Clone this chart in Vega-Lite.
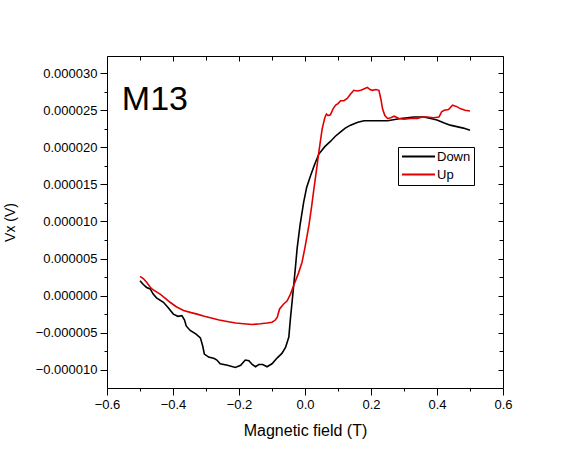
{
  "$schema": "https://vega.github.io/schema/vega-lite/v6.json",
  "width": 396,
  "height": 332,
  "autosize": "none",
  "padding": {"left": 107, "top": 56, "right": 85, "bottom": 82},
  "background": "white",
  "config": {
    "font": "Liberation Sans",
    "view": {"stroke": "#000000", "strokeWidth": 1},
    "axis": {
      "domain": false,
      "grid": false,
      "tickColor": "#000000",
      "tickWidth": 1,
      "labelColor": "#000000",
      "titleColor": "#000000",
      "labelFont": "Liberation Sans",
      "titleFont": "Liberation Sans",
      "labelFontSize": 13,
      "titleFontWeight": "normal",
      "labelFlush": false,
      "labelOverlap": false
    }
  },
  "datasets": {
    "curves": [
      {"B": -0.500, "V": 2.0e-6, "series": "Down"},
      {"B": -0.490, "V": 1.5e-6, "series": "Down"},
      {"B": -0.480, "V": 1.1e-6, "series": "Down"},
      {"B": -0.469, "V": 0.9e-6, "series": "Down"},
      {"B": -0.460, "V": 0.2e-6, "series": "Down"},
      {"B": -0.450, "V": -0.3e-6, "series": "Down"},
      {"B": -0.429, "V": -0.9e-6, "series": "Down"},
      {"B": -0.415, "V": -1.6e-6, "series": "Down"},
      {"B": -0.399, "V": -2.5e-6, "series": "Down"},
      {"B": -0.385, "V": -2.8e-6, "series": "Down"},
      {"B": -0.373, "V": -2.7e-6, "series": "Down"},
      {"B": -0.365, "V": -3.3e-6, "series": "Down"},
      {"B": -0.360, "V": -4.1e-6, "series": "Down"},
      {"B": -0.348, "V": -4.7e-6, "series": "Down"},
      {"B": -0.330, "V": -5.2e-6, "series": "Down"},
      {"B": -0.317, "V": -5.7e-6, "series": "Down"},
      {"B": -0.310, "V": -6.8e-6, "series": "Down"},
      {"B": -0.305, "V": -7.9e-6, "series": "Down"},
      {"B": -0.292, "V": -8.3e-6, "series": "Down"},
      {"B": -0.275, "V": -8.5e-6, "series": "Down"},
      {"B": -0.267, "V": -8.7e-6, "series": "Down"},
      {"B": -0.257, "V": -9.2e-6, "series": "Down"},
      {"B": -0.235, "V": -9.4e-6, "series": "Down"},
      {"B": -0.211, "V": -9.7e-6, "series": "Down"},
      {"B": -0.195, "V": -9.4e-6, "series": "Down"},
      {"B": -0.181, "V": -8.7e-6, "series": "Down"},
      {"B": -0.170, "V": -8.8e-6, "series": "Down"},
      {"B": -0.160, "V": -9.3e-6, "series": "Down"},
      {"B": -0.150, "V": -9.6e-6, "series": "Down"},
      {"B": -0.140, "V": -9.3e-6, "series": "Down"},
      {"B": -0.128, "V": -9.3e-6, "series": "Down"},
      {"B": -0.115, "V": -9.6e-6, "series": "Down"},
      {"B": -0.100, "V": -9.2e-6, "series": "Down"},
      {"B": -0.084, "V": -8.4e-6, "series": "Down"},
      {"B": -0.070, "V": -7.8e-6, "series": "Down"},
      {"B": -0.059, "V": -7.0e-6, "series": "Down"},
      {"B": -0.049, "V": -5.6e-6, "series": "Down"},
      {"B": -0.044, "V": -3.0e-6, "series": "Down"},
      {"B": -0.039, "V": -0.8e-6, "series": "Down"},
      {"B": -0.034, "V": 1.5e-6, "series": "Down"},
      {"B": -0.029, "V": 3.8e-6, "series": "Down"},
      {"B": -0.024, "V": 6.3e-6, "series": "Down"},
      {"B": -0.015, "V": 9.5e-6, "series": "Down"},
      {"B": -0.004, "V": 12.6e-6, "series": "Down"},
      {"B": 0.005, "V": 14.6e-6, "series": "Down"},
      {"B": 0.017, "V": 16.2e-6, "series": "Down"},
      {"B": 0.030, "V": 17.8e-6, "series": "Down"},
      {"B": 0.042, "V": 19.1e-6, "series": "Down"},
      {"B": 0.060, "V": 20.1e-6, "series": "Down"},
      {"B": 0.077, "V": 20.8e-6, "series": "Down"},
      {"B": 0.092, "V": 21.5e-6, "series": "Down"},
      {"B": 0.108, "V": 22.1e-6, "series": "Down"},
      {"B": 0.122, "V": 22.6e-6, "series": "Down"},
      {"B": 0.138, "V": 23.0e-6, "series": "Down"},
      {"B": 0.160, "V": 23.4e-6, "series": "Down"},
      {"B": 0.179, "V": 23.6e-6, "series": "Down"},
      {"B": 0.210, "V": 23.6e-6, "series": "Down"},
      {"B": 0.250, "V": 23.6e-6, "series": "Down"},
      {"B": 0.290, "V": 23.9e-6, "series": "Down"},
      {"B": 0.330, "V": 24.1e-6, "series": "Down"},
      {"B": 0.360, "V": 24.1e-6, "series": "Down"},
      {"B": 0.381, "V": 23.9e-6, "series": "Down"},
      {"B": 0.400, "V": 23.7e-6, "series": "Down"},
      {"B": 0.422, "V": 23.3e-6, "series": "Down"},
      {"B": 0.440, "V": 23.0e-6, "series": "Down"},
      {"B": 0.460, "V": 22.8e-6, "series": "Down"},
      {"B": 0.480, "V": 22.6e-6, "series": "Down"},
      {"B": 0.500, "V": 22.3e-6, "series": "Down"},
      {"B": -0.500, "V": 2.6e-6, "series": "Up"},
      {"B": -0.490, "V": 2.3e-6, "series": "Up"},
      {"B": -0.480, "V": 1.8e-6, "series": "Up"},
      {"B": -0.470, "V": 1.2e-6, "series": "Up"},
      {"B": -0.464, "V": 0.9e-6, "series": "Up"},
      {"B": -0.450, "V": 0.5e-6, "series": "Up"},
      {"B": -0.439, "V": 0.2e-6, "series": "Up"},
      {"B": -0.425, "V": -0.3e-6, "series": "Up"},
      {"B": -0.409, "V": -0.9e-6, "series": "Up"},
      {"B": -0.390, "V": -1.5e-6, "series": "Up"},
      {"B": -0.368, "V": -2.0e-6, "series": "Up"},
      {"B": -0.345, "V": -2.3e-6, "series": "Up"},
      {"B": -0.327, "V": -2.5e-6, "series": "Up"},
      {"B": -0.305, "V": -2.8e-6, "series": "Up"},
      {"B": -0.287, "V": -3.0e-6, "series": "Up"},
      {"B": -0.260, "V": -3.3e-6, "series": "Up"},
      {"B": -0.236, "V": -3.5e-6, "series": "Up"},
      {"B": -0.210, "V": -3.7e-6, "series": "Up"},
      {"B": -0.186, "V": -3.8e-6, "series": "Up"},
      {"B": -0.160, "V": -3.9e-6, "series": "Up"},
      {"B": -0.135, "V": -3.8e-6, "series": "Up"},
      {"B": -0.115, "V": -3.7e-6, "series": "Up"},
      {"B": -0.100, "V": -3.6e-6, "series": "Up"},
      {"B": -0.090, "V": -3.3e-6, "series": "Up"},
      {"B": -0.084, "V": -2.9e-6, "series": "Up"},
      {"B": -0.077, "V": -1.8e-6, "series": "Up"},
      {"B": -0.066, "V": -1.2e-6, "series": "Up"},
      {"B": -0.054, "V": -0.7e-6, "series": "Up"},
      {"B": -0.044, "V": 0.2e-6, "series": "Up"},
      {"B": -0.034, "V": 1.4e-6, "series": "Up"},
      {"B": -0.020, "V": 3.0e-6, "series": "Up"},
      {"B": -0.009, "V": 4.5e-6, "series": "Up"},
      {"B": 0.000, "V": 6.5e-6, "series": "Up"},
      {"B": 0.012, "V": 9.5e-6, "series": "Up"},
      {"B": 0.020, "V": 12.0e-6, "series": "Up"},
      {"B": 0.027, "V": 14.4e-6, "series": "Up"},
      {"B": 0.035, "V": 17.0e-6, "series": "Up"},
      {"B": 0.042, "V": 19.4e-6, "series": "Up"},
      {"B": 0.052, "V": 22.5e-6, "series": "Up"},
      {"B": 0.060, "V": 24.0e-6, "series": "Up"},
      {"B": 0.065, "V": 24.5e-6, "series": "Up"},
      {"B": 0.070, "V": 24.3e-6, "series": "Up"},
      {"B": 0.077, "V": 24.4e-6, "series": "Up"},
      {"B": 0.085, "V": 25.2e-6, "series": "Up"},
      {"B": 0.093, "V": 25.7e-6, "series": "Up"},
      {"B": 0.100, "V": 25.9e-6, "series": "Up"},
      {"B": 0.108, "V": 26.3e-6, "series": "Up"},
      {"B": 0.118, "V": 26.3e-6, "series": "Up"},
      {"B": 0.128, "V": 26.6e-6, "series": "Up"},
      {"B": 0.138, "V": 27.2e-6, "series": "Up"},
      {"B": 0.148, "V": 27.7e-6, "series": "Up"},
      {"B": 0.158, "V": 27.6e-6, "series": "Up"},
      {"B": 0.169, "V": 27.7e-6, "series": "Up"},
      {"B": 0.180, "V": 27.9e-6, "series": "Up"},
      {"B": 0.189, "V": 28.1e-6, "series": "Up"},
      {"B": 0.197, "V": 27.8e-6, "series": "Up"},
      {"B": 0.204, "V": 27.7e-6, "series": "Up"},
      {"B": 0.215, "V": 27.8e-6, "series": "Up"},
      {"B": 0.224, "V": 27.7e-6, "series": "Up"},
      {"B": 0.230, "V": 26.5e-6, "series": "Up"},
      {"B": 0.235, "V": 25.2e-6, "series": "Up"},
      {"B": 0.242, "V": 24.3e-6, "series": "Up"},
      {"B": 0.250, "V": 23.9e-6, "series": "Up"},
      {"B": 0.260, "V": 24.0e-6, "series": "Up"},
      {"B": 0.270, "V": 24.2e-6, "series": "Up"},
      {"B": 0.285, "V": 23.9e-6, "series": "Up"},
      {"B": 0.300, "V": 23.8e-6, "series": "Up"},
      {"B": 0.320, "V": 23.9e-6, "series": "Up"},
      {"B": 0.341, "V": 23.9e-6, "series": "Up"},
      {"B": 0.355, "V": 24.1e-6, "series": "Up"},
      {"B": 0.371, "V": 24.1e-6, "series": "Up"},
      {"B": 0.390, "V": 24.0e-6, "series": "Up"},
      {"B": 0.406, "V": 24.1e-6, "series": "Up"},
      {"B": 0.414, "V": 24.8e-6, "series": "Up"},
      {"B": 0.422, "V": 25.0e-6, "series": "Up"},
      {"B": 0.435, "V": 25.1e-6, "series": "Up"},
      {"B": 0.447, "V": 25.7e-6, "series": "Up"},
      {"B": 0.460, "V": 25.5e-6, "series": "Up"},
      {"B": 0.472, "V": 25.2e-6, "series": "Up"},
      {"B": 0.485, "V": 25.0e-6, "series": "Up"},
      {"B": 0.500, "V": 24.9e-6, "series": "Up"}
    ],
    "label": [
      {"B": -0.555, "V": 25.0e-6, "text": "M13"}
    ]
  },
  "layer": [
    {
      "data": {"name": "curves"},
      "mark": {"type": "line", "strokeWidth": 1.6},
      "encoding": {
        "x": {
          "field": "B", "type": "quantitative",
          "scale": {"domain": [-0.6, 0.6], "nice": false, "zero": false},
          "axis": {
            "orient": "bottom",
            "values": [-0.6, -0.4, -0.2, 0, 0.2, 0.4, 0.6],
            "format": ".1f",
            "tickSize": 7,
            "labelPadding": 3,
            "title": "Magnetic field (T)",
            "titleFontSize": 16,
            "titlePadding": 11
          }
        },
        "y": {
          "field": "V", "type": "quantitative",
          "scale": {"domain": [-1.247e-5, 3.233e-5], "nice": false, "zero": false},
          "axis": {
            "orient": "left",
            "values": [-1.0e-5, -5.0e-6, 0, 5.0e-6, 1.0e-5, 1.5e-5, 2.0e-5, 2.5e-5, 3.0e-5],
            "format": ".6f",
            "tickSize": 7,
            "labelPadding": 3,
            "title": "Vx (V)",
            "titleFontSize": 14,
            "titlePadding": 18
          }
        },
        "color": {
          "field": "series", "type": "nominal",
          "scale": {"domain": ["Down", "Up"], "range": ["#000000", "#e00000"]},
          "legend": {
            "orient": "none",
            "legendX": 291,
            "legendY": 91,
            "title": null,
            "symbolType": "M-3,0H3",
            "symbolSize": 121,
            "symbolOffset": 11,
            "symbolStrokeWidth": 2,
            "labelFontSize": 13,
            "labelColor": "#000000",
            "labelOffset": 12,
            "rowPadding": 4,
            "padding": 3,
            "strokeColor": "#000000",
            "fillColor": "#ffffff"
          }
        }
      }
    },
    {
      "data": {"name": "label"},
      "mark": {"type": "text", "align": "left", "baseline": "alphabetic", "fontSize": 34, "font": "Liberation Sans", "color": "#000000"},
      "encoding": {
        "x": {
          "field": "B", "type": "quantitative",
          "scale": {"domain": [-0.6, 0.6], "nice": false, "zero": false},
          "axis": {"orient": "bottom", "values": [-0.5, -0.3, -0.1, 0.1, 0.3, 0.5], "tickSize": 3, "labels": false, "title": null}
        },
        "y": {
          "field": "V", "type": "quantitative",
          "scale": {"domain": [-1.247e-5, 3.233e-5], "nice": false, "zero": false},
          "axis": {"orient": "left", "values": [-7.5e-6, -2.5e-6, 2.5e-6, 7.5e-6, 1.25e-5, 1.75e-5, 2.25e-5, 2.75e-5], "tickSize": 3, "labels": false, "title": null}
        },
        "text": {"field": "text"}
      }
    },
    {
      "data": {"name": "curves"},
      "mark": {"type": "point", "opacity": 0},
      "encoding": {
        "x": {
          "field": "B", "type": "quantitative",
          "scale": {"domain": [-0.6, 0.6], "nice": false, "zero": false},
          "axis": {"orient": "top", "values": [-0.6, -0.4, -0.2, 0, 0.2, 0.4, 0.6], "tickSize": -5, "labels": false, "title": null}
        },
        "y": {
          "field": "V", "type": "quantitative",
          "scale": {"domain": [-1.247e-5, 3.233e-5], "nice": false, "zero": false},
          "axis": {"orient": "right", "values": [-1.0e-5, -5.0e-6, 0, 5.0e-6, 1.0e-5, 1.5e-5, 2.0e-5, 2.5e-5, 3.0e-5], "tickSize": -5, "labels": false, "title": null}
        }
      }
    },
    {
      "data": {"name": "curves"},
      "mark": {"type": "point", "opacity": 0},
      "encoding": {
        "x": {
          "field": "B", "type": "quantitative",
          "scale": {"domain": [-0.6, 0.6], "nice": false, "zero": false},
          "axis": {"orient": "top", "values": [-0.5, -0.3, -0.1, 0.1, 0.3, 0.5], "tickSize": -4, "labels": false, "title": null}
        },
        "y": {
          "field": "V", "type": "quantitative",
          "scale": {"domain": [-1.247e-5, 3.233e-5], "nice": false, "zero": false},
          "axis": {"orient": "right", "values": [-7.5e-6, -2.5e-6, 2.5e-6, 7.5e-6, 1.25e-5, 1.75e-5, 2.25e-5, 2.75e-5], "tickSize": -4, "labels": false, "title": null}
        }
      }
    }
  ],
  "resolve": {"axis": {"x": "independent", "y": "independent"}}
}
